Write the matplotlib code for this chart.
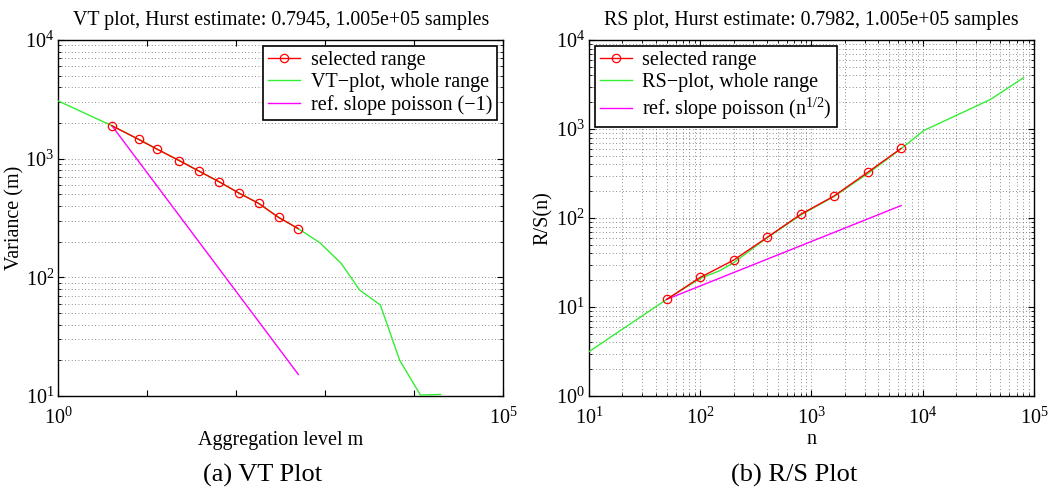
import numpy as np
import matplotlib
matplotlib.use("Agg")
import matplotlib.pyplot as plt
from matplotlib.ticker import LogLocator, NullFormatter, FixedLocator, FixedFormatter

plt.rcParams['font.family'] = ['Liberation Serif', 'DejaVu Serif']
plt.rcParams['mathtext.fontset'] = 'custom'
plt.rcParams['mathtext.rm'] = 'Liberation Serif'

# ---- VT plot data ----
vt_sel_m = [4, 8, 13, 23, 38, 64, 107, 179, 300, 500]
vt_sel_var = [1897, 1455, 1199, 962, 787, 640, 514, 420, 320, 257]
vt_all_m = [1, 4, 8, 13, 23, 38, 64, 107, 179, 300, 500, 871, 1520, 2450, 4180, 6900, 11800, 19900]
vt_all_var = [3062, 1897, 1455, 1199, 962, 787, 640, 514, 420, 320, 257, 196, 131, 78, 58.5, 20, 10.2, 10.3]
vt_ref_m = [4, 500]
vt_ref_var = [1897, 15.2]

# ---- RS plot data ----
rs_sel_n = [50, 100, 200, 400, 800, 1600, 3200, 6400]
rs_sel_rs = [12.2, 21.5, 33.7, 60.6, 110, 177, 326, 606]
rs_all_n = [10, 20, 50, 100, 150, 200, 300, 400, 800, 1600, 3200, 6400, 10200, 40700, 80700]
rs_all_rs = [3.15, 5.64, 12.2, 21.0, 25.6, 31.5, 46, 60, 108, 175, 315, 600, 960, 2150, 3775]
rs_ref_n = [50, 6400]
rs_ref_rs = [12.2, 138]

RED = '#ff0000'
GREEN = '#33ee33'
MAG = '#ff00ff'

fig = plt.figure(figsize=(10.62, 4.88), dpi=100)
ax1 = fig.add_axes([0.0549, 0.1885, 0.4187, 0.7295])
ax2 = fig.add_axes([0.5546, 0.1885, 0.4190, 0.7295])

TFS = 14.5
LFS = 14.5
GRID = dict(linestyle=(0, (1, 3)), color='#666666', lw=0.6)

def style(ax):
    ax.set_xscale('log')
    ax.set_yscale('log')
    ax.tick_params(which='both', direction='in', top=True, right=True, labelsize=TFS)
    ax.tick_params(axis='x', which='major', pad=8)
    ax.tick_params(axis='y', which='major', pad=3)
    ax.tick_params(which='major', length=4, width=0.8)
    ax.tick_params(which='minor', length=2, width=0.6)
    for s in ax.spines.values():
        s.set_linewidth(1.0)

LEG = dict(fontsize=LFS, frameon=True, fancybox=False, edgecolor='black', framealpha=1,
           borderpad=0.25, labelspacing=0.15, handlelength=1.6, handletextpad=0.5,
           borderaxespad=0.3)

# VT
style(ax1)
ax1.plot(vt_sel_m, vt_sel_var, color=RED, lw=1, marker='o', ms=6, mfc='none', mec=RED, mew=0.9, label='selected range', zorder=4)
ax1.plot(vt_all_m, vt_all_var, color=GREEN, lw=1, label='VT\u2212plot, whole range', zorder=3)
ax1.plot(vt_ref_m, vt_ref_var, color=MAG, lw=1, label='ref. slope poisson (\u22121)', zorder=3)
ax1.set_xlim(1, 1e5)
ax1.set_ylim(10, 1e4)
ax1.xaxis.set_major_locator(FixedLocator([1, 10, 100, 1e3, 1e4, 1e5]))
ax1.xaxis.set_major_formatter(FixedFormatter([r'$\mathregular{10^0}$', '', '', '', '', r'$\mathregular{10^5}$']))
ax1.xaxis.set_minor_locator(FixedLocator([]))
ax1.yaxis.set_major_locator(LogLocator(base=10))
ax1.yaxis.set_minor_locator(LogLocator(base=10, subs=np.arange(2, 10)))
ax1.yaxis.set_minor_formatter(NullFormatter())
ax1.grid(True, axis='y', which='both', **GRID)
ax1.set_title('VT plot, Hurst estimate: 0.7945, 1.005e+05 samples', fontsize=14.3, pad=11)
ax1.set_xlabel('Aggregation level m', fontsize=LFS, labelpad=2)
ax1.set_ylabel('Variance (m)', fontsize=LFS)
ax1.yaxis.set_label_coords(-0.075, 0.5)
leg1 = ax1.legend(loc='upper right', **LEG)
leg1.get_frame().set_linewidth(1.2)

# RS
style(ax2)
ax2.plot(rs_sel_n, rs_sel_rs, color=RED, lw=1, marker='o', ms=6, mfc='none', mec=RED, mew=0.9, label='selected range', zorder=4)
ax2.plot(rs_all_n, rs_all_rs, color=GREEN, lw=1, label='RS\u2212plot, whole range', zorder=3)
ax2.plot(rs_ref_n, rs_ref_rs, color=MAG, lw=1, label=r'ref. slope poisson (n$^{\mathregular{1/2}}$)', zorder=3)
ax2.set_xlim(10, 1e5)
ax2.set_ylim(1, 1e4)
for a in (ax2.xaxis, ax2.yaxis):
    a.set_major_locator(LogLocator(base=10))
    a.set_minor_locator(LogLocator(base=10, subs=np.arange(2, 10)))
    a.set_minor_formatter(NullFormatter())
ax2.grid(True, which='both', **GRID)
ax2.set_title('RS plot, Hurst estimate: 0.7982, 1.005e+05 samples', fontsize=14.3, pad=11)
ax2.set_xlabel('n', fontsize=LFS, labelpad=1)
ax2.set_ylabel('R/S(n)', fontsize=LFS)
ax2.yaxis.set_label_coords(-0.08, 0.5)
leg2 = ax2.legend(loc='upper left', **LEG)
leg2.get_frame().set_linewidth(1.2)

fig.text(0.247, 0.025, '(a) VT Plot', ha='center', va='center', fontsize=19)
fig.text(0.748, 0.025, '(b) R/S Plot', ha='center', va='center', fontsize=19)

fig.savefig('out.png', dpi=100)
